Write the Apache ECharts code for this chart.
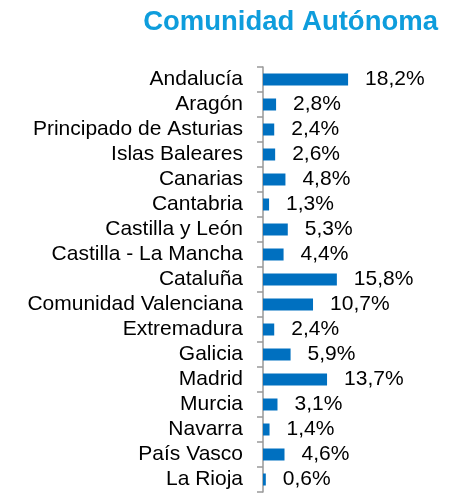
<!DOCTYPE html>
<html>
<head>
<meta charset="utf-8">
<script src="https://cdn.jsdelivr.net/npm/echarts@6/dist/echarts.min.js"></script>
<style>
  html, body { margin: 0; padding: 0; background: #fff; }
  #chart { width: 451px; height: 493px; }
</style>
</head>
<body>
<div id="chart"></div>
<script>
// regiones y porcentajes
var regiones = ['Andalucía', 'Aragón', 'Principado de Asturias', 'Islas Baleares', 'Canarias',
  'Cantabria', 'Castilla y León', 'Castilla - La Mancha', 'Cataluña', 'Comunidad Valenciana',
  'Extremadura', 'Galicia', 'Madrid', 'Murcia', 'Navarra', 'País Vasco', 'La Rioja'];
var porcentajes = [18.2, 2.8, 2.4, 2.6, 4.8, 1.3, 5.3, 4.4, 15.8, 10.7, 2.4, 5.9, 13.7, 3.1, 1.4, 4.6, 0.6];

var myChart = echarts.init(document.getElementById('chart'));
var option = {
  animation: false,
  title: {
    text: 'Comunidad Autónoma',
    right: 8,
    top: 3,
    textStyle: {
      fontFamily: 'Liberation Sans, Arial, sans-serif',
      fontSize: 27.5,
      fontWeight: 'bold',
      color: '#0E9DDC'
    }
  },
  grid: {
    left: 263,
    right: 1,
    top: 67,
    bottom: 1
  },
  xAxis: {
    type: 'value',
    min: 0,
    max: 40,
    show: false
  },
  yAxis: {
    type: 'category',
    inverse: true,
    data: regiones,
    axisLine: {
      show: true,
      lineStyle: { color: '#999999', width: 1.5 }
    },
    axisTick: {
      show: true,
      length: 6,
      interval: 0,
      lineStyle: { color: '#999999', width: 1.5 }
    },
    axisLabel: {
      interval: 0,
      margin: 20,
      color: '#000000',
      fontSize: 21,
      fontFamily: 'Liberation Sans, Arial, sans-serif'
    }
  },
  series: [
    {
      type: 'bar',
      data: porcentajes,
      barWidth: 12,
      itemStyle: { color: '#0070C0' },
      label: {
        show: true,
        position: 'right',
        distance: 17,
        color: '#000000',
        fontSize: 21,
        fontFamily: 'Liberation Sans, Arial, sans-serif',
        formatter: function (p) {
          return p.value.toFixed(1).replace('.', ',') + '%';
        }
      }
    }
  ]
};
option && myChart.setOption(option);
</script>
</body>
</html>
